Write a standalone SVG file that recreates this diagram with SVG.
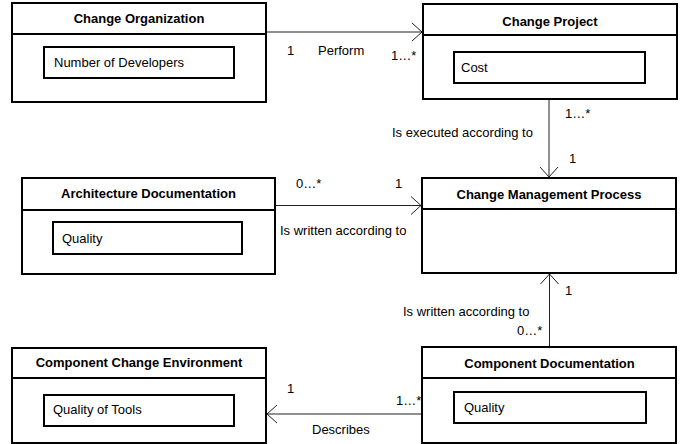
<svg xmlns="http://www.w3.org/2000/svg" width="680" height="444" viewBox="0 0 680 444">
<style>
.box{fill:#fff;stroke:#000;stroke-width:2}
.div{stroke:#000;stroke-width:2}
.t{font-family:"Liberation Sans",Arial,sans-serif;font-size:13px;font-weight:bold;text-anchor:middle;fill:#000}
.a{font-family:"Liberation Sans",Arial,sans-serif;font-size:13px;fill:#000}
.l{font-family:"Liberation Sans",Arial,sans-serif;font-size:13px;fill:#000}
.c{fill:none;stroke:#222;stroke-width:1;marker-end:url(#arr)}
</style>
<defs>
<marker id="arr" viewBox="-11 -10 12 20" refX="0" refY="0" markerWidth="12" markerHeight="20" orient="auto" markerUnits="userSpaceOnUse">
<path d="M-10,-9 L0,0 L-10,9" fill="none" stroke="#222" stroke-width="1"/>
</marker>
</defs>
<rect width="680" height="444" fill="#fff"/>
<g id="connectors">
<path class="c" d="M266,32 H422"/>
<path class="c" d="M549,99 V177"/>
<path class="c" d="M275,205.5 H421"/>
<path class="c" d="M549.5,347 V274"/>
<path class="c" d="M422,414 H267"/>
<text class="l" x="287" y="55">1</text>
<text class="l" x="318" y="55">Perform</text>
<text class="l" x="391" y="60">1…*</text>
<text class="l" x="565" y="118">1…*</text>
<text class="l" x="392" y="137">Is executed according to</text>
<text class="l" x="569" y="163">1</text>
<text class="l" x="296" y="188">0…*</text>
<text class="l" x="395" y="188">1</text>
<text class="l" x="280" y="235">Is written according to</text>
<text class="l" x="565" y="295">1</text>
<text class="l" x="403" y="316">Is written according to</text>
<text class="l" x="517" y="335">0…*</text>
<text class="l" x="287" y="393">1</text>
<text class="l" x="396" y="405">1…*</text>
<text class="l" x="312" y="434">Describes</text>
</g>
<g id="change-organization">
<rect class="box" x="12" y="3" width="254" height="99"/>
<line class="div" x1="12" y1="34" x2="266" y2="34"/>
<text class="t" x="139" y="23">Change Organization</text>
<rect class="box" x="44" y="47" width="190" height="31"/>
<text class="a" x="54" y="67">Number of Developers</text>
</g>
<g id="change-project">
<rect class="box" x="423" y="4" width="254" height="95"/>
<line class="div" x1="423" y1="35" x2="677" y2="35"/>
<text class="t" x="550" y="26">Change Project</text>
<rect class="box" x="454" y="52" width="191" height="31"/>
<text class="a" x="461" y="72">Cost</text>
</g>
<g id="architecture-documentation">
<rect class="box" x="22" y="178" width="253" height="96"/>
<line class="div" x1="22" y1="210" x2="275" y2="210"/>
<text class="t" x="148.5" y="198">Architecture Documentation</text>
<rect class="box" x="53" y="222" width="189" height="32"/>
<text class="a" x="62" y="243">Quality</text>
</g>
<g id="change-management-process">
<rect class="box" x="422" y="178" width="254" height="95"/>
<line class="div" x1="422" y1="209" x2="676" y2="209"/>
<text class="t" x="549" y="199">Change Management Process</text>
</g>
<g id="component-change-environment">
<rect class="box" x="12" y="348" width="254" height="95"/>
<line class="div" x1="12" y1="378" x2="266" y2="378"/>
<text class="t" x="139" y="367">Component Change Environment</text>
<rect class="box" x="44" y="395" width="190" height="31"/>
<text class="a" x="53" y="414">Quality of Tools</text>
</g>
<g id="component-documentation">
<rect class="box" x="422" y="347" width="254" height="96"/>
<line class="div" x1="422" y1="378" x2="676" y2="378"/>
<text class="t" x="549.5" y="368">Component Documentation</text>
<rect class="box" x="454" y="392" width="192" height="31"/>
<text class="a" x="464" y="412">Quality</text>
</g>
</svg>
